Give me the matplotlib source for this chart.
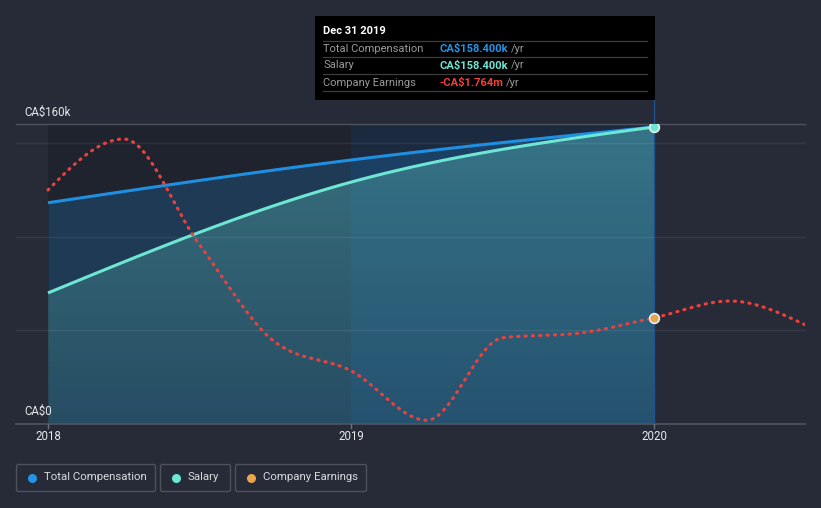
import numpy as np
import matplotlib
matplotlib.use("Agg")
import matplotlib.pyplot as plt
from matplotlib.patches import FancyBboxPatch, Rectangle, Polygon

plt.rcParams['text.parse_math'] = False
plt.rcParams['font.family'] = ['Roboto', 'DejaVu Sans']

# ---------------- data ----------------
comp_years = [2018.0, 2019.0, 2020.0]
total_comp = [118.0, 140.8, 158.4]      # CA$k
salary = [69.9, 129.0, 158.4]           # CA$k

earn_years = [2018.0, 2018.25, 2018.5, 2018.75, 2019.0, 2019.25,
              2019.5, 2019.75, 2020.0, 2020.25, 2020.5]
earnings = [-0.06, 0.62, -0.79, -2.09, -2.47, -3.13,
            -2.03, -1.97, -1.764, -1.54, -1.86]   # CA$m

x_ticks = [2018, 2019, 2020]
x_tick_labels = ['2018', '2019', '2020']
y_top_label = 'CA$160k'
y_bottom_label = 'CA$0'
legend_labels = ['Total Compensation', 'Salary', 'Company Earnings']
tooltip_title = 'Dec 31 2019'
tooltip_rows = [('Total Compensation', 'CA$158.400k', '#2394e6'),
                ('Salary', 'CA$158.400k', '#6ee6d4'),
                ('Company Earnings', '-CA$1.764m', '#f0413c')]

# ---------------- helpers ----------------
def monotone(x, y, n=60):
    x = np.asarray(x, float); y = np.asarray(y, float)
    h = np.diff(x); s = np.diff(y) / h
    m = np.zeros_like(y)
    for i in range(1, len(y) - 1):
        p = (s[i-1] * h[i] + s[i] * h[i-1]) / (h[i-1] + h[i])
        m[i] = (np.sign(s[i-1]) + np.sign(s[i])) * min(abs(s[i-1]), abs(s[i]), 0.5 * abs(p))
    m[0] = (3 * s[0] - m[1]) / 2
    m[-1] = (3 * s[-1] - m[-2]) / 2
    xs, ys = [], []
    for i in range(len(h)):
        t = np.linspace(0, 1, n, endpoint=(i == len(h) - 1))
        h00 = 2*t**3 - 3*t**2 + 1
        h10 = t**3 - 2*t**2 + t
        h01 = -2*t**3 + 3*t**2
        h11 = t**3 - t**2
        xs.append(x[i] + t * h[i])
        ys.append(h00*y[i] + h10*h[i]*m[i] + h01*y[i+1] + h11*h[i]*m[i+1])
    return np.concatenate(xs), np.concatenate(ys)

W, H = 821, 508
BG = '#262b37'
fig = plt.figure(figsize=(W/100, H/100), dpi=100, facecolor=BG)

x0 = 2018 - 32/303
x1 = 2020 + 151/303
ax = fig.add_axes([16/W, (H-424)/H, (805-16)/W, 300/H])
ax.set_facecolor(BG)
ax.set_xlim(x0, x1)
ax.set_ylim(0, 160)
for sp in ax.spines.values():
    sp.set_visible(False)
ax.set_xticks([]); ax.set_yticks([])

# bands
ax.axvspan(2018, 2019, ymin=0, ymax=1, color='#1f232e', lw=0, zorder=0)
ax.axvspan(2019, 2020, ymin=0, ymax=1, color='#1c2a40', lw=0, zorder=0)

# total compensation fill
tx, ty = monotone(comp_years, total_comp)
ax.fill_between(tx, 0, ty, color='#1e8fe1', alpha=0.22, lw=0, zorder=1)

# salary gradient fill
sx, sy = monotone(comp_years, salary)
poly = Polygon(np.column_stack([np.r_[sx, sx[::-1]], np.r_[sy, np.zeros_like(sy)]]),
               closed=True, facecolor='none', edgecolor='none')
ax.add_patch(poly)
grad = np.zeros((100, 2, 4))
teal = np.array([0.44, 0.90, 0.84])
alphas = np.linspace(0.32, 0.11, 100)   # row 0 = top
grad[:, :, :3] = teal
grad[:, :, 3] = alphas[:, None]
im = ax.imshow(grad, extent=[2018, 2020, 0, 160], origin='upper', aspect='auto',
               zorder=2, interpolation='bilinear')
im.set_clip_path(poly)
ax.set_xlim(x0, x1)
ax.set_ylim(0, 160)

# gridlines
for v in [50, 100, 150]:
    ax.axhline(v, color='white', alpha=0.07, lw=1, zorder=3)
ax.axhline(160, color='#4c515c', lw=1, zorder=3, clip_on=False)
ax.axhline(0, color='#4f545f', lw=1.2, zorder=3, clip_on=False)

# vertical highlight line
ax.plot([2020, 2020], [0, 160*(424-100)/300], color='#1f5291', lw=1,
        zorder=3, clip_on=False)

# lines
ax.plot(tx, ty, color='#1e8fe1', lw=2.2, zorder=5, solid_capstyle='butt')
ax.plot(sx, sy, color='#6ee6d4', lw=2.2, zorder=6, solid_capstyle='butt')
ax.plot([comp_years[-1]], [salary[-1]], 'o', ms=7, mfc='#6ee6d4', mec='#e8eef2',
        mew=1.2, zorder=8)

# earnings on secondary scale
ax2 = ax.twinx()
ax2.set_ylim(-3.18, 0.82)
ax2.set_xlim(x0, x1)
ax2.axis('off')
ex, ey = monotone(earn_years, earnings)
ax2.plot(ex, ey, color='#e8413f', lw=2.3, dashes=(0.35, 1.95),
         dash_capstyle='round', zorder=7)
ax2.plot([2020], [earnings[earn_years.index(2020.0)]], 'o', ms=7, mfc='#e8a54b',
         mec='#e8eef2', mew=1.2, zorder=9)

# ---------------- overlay in pixel coords ----------------
ov = fig.add_axes([0, 0, 1, 1], facecolor='none', zorder=10)
ov.set_xlim(0, W); ov.set_ylim(H, 0); ov.axis('off')

TXT = '#e6e8eb'
ov.text(24, 112, y_top_label, color=TXT, fontsize=8.3, va='center', ha='left')
ov.text(24, 411, y_bottom_label, color=TXT, fontsize=8.3, va='center', ha='left')

for xt, lab in zip(x_ticks, x_tick_labels):
    px = 48 + (xt - 2018) * 303
    ov.plot([px, px], [424, 428], color='#6a6f79', lw=1)
    ov.text(px, 437, lab, color=TXT, fontsize=8.3, ha='center', va='center')

# tooltip
ov.add_patch(Rectangle((315, 16), 340, 84, facecolor='black', edgecolor='none'))
ov.text(323, 31.5, tooltip_title, color='white', fontsize=8, fontweight='bold',
        va='center', ha='left')
for yy in [40.7, 57.3, 74.3, 91.3]:
    ov.plot([323, 647], [yy, yy], color='#3d3d3d', lw=0.9)
for i, (lab, val, col) in enumerate(tooltip_rows):
    yy = 48.5 + i * 17
    ov.text(323, yy, lab, color='#9a9a9a', fontsize=8, va='center', ha='left')
    t = ov.text(439, yy, val, color=col, fontsize=8, fontweight='bold',
                va='center', ha='left')
    fig.canvas.draw()
    bb = t.get_window_extent()
    ov.text(439 + bb.width + 3, yy, '/yr', color='#9a9a9a', fontsize=8,
            va='center', ha='left')

# legend
legend_boxes = [(16, 156, 32, 44), (160, 231, 176, 188), (235, 367, 251, 263)]
legend_colors = ['#2394e6', '#6ee6d4', '#e8a54b']
for (bx0, bx1, dx, tx_), lab, col in zip(legend_boxes, legend_labels, legend_colors):
    ov.add_patch(FancyBboxPatch((bx0 + 0.5, 464.5), bx1 - bx0 - 1, 27,
                                boxstyle='round,pad=0,rounding_size=2',
                                facecolor='none', edgecolor='#4d525d', lw=1))
    ov.plot([dx], [477.5], 'o', ms=6.5, color=col, mec='none')
    ov.text(tx_, 477.5, lab, color='#d8dadd', fontsize=8.2, va='center', ha='left')

fig.savefig('out.png', dpi=100, facecolor=BG)
